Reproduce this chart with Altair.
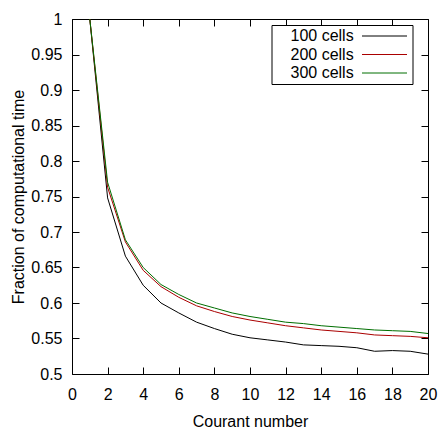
import altair as alt
import pandas as pd

courant = list(range(1, 21))
cells100 = [1.0, 0.748, 0.666, 0.625, 0.600, 0.586, 0.573, 0.564, 0.556, 0.551,
            0.548, 0.545, 0.541, 0.540, 0.539, 0.537, 0.532, 0.533, 0.532, 0.528]
cells200 = [1.0, 0.763, 0.686, 0.646, 0.623, 0.608, 0.596, 0.588, 0.581, 0.576,
            0.572, 0.568, 0.565, 0.562, 0.560, 0.558, 0.555, 0.554, 0.553, 0.551]
cells300 = [1.0, 0.770, 0.689, 0.650, 0.626, 0.612, 0.600, 0.593, 0.586, 0.581,
            0.577, 0.573, 0.571, 0.568, 0.566, 0.564, 0.562, 0.561, 0.560, 0.557]
series_names = ["100 cells", "200 cells", "300 cells"]
series_colors = ["#000000", "#aa0000", "#006e00"]
x_ticks = [0, 2, 4, 6, 8, 10, 12, 14, 16, 18, 20]
y_ticks = [0.5, 0.55, 0.6, 0.65, 0.7, 0.75, 0.8, 0.85, 0.9, 0.95, 1.0]

rows = []
for name, vals in zip(series_names, [cells100, cells200, cells300]):
    for c, v in zip(courant, vals):
        rows.append({"courant": c, "frac": v, "series": name})
df = pd.DataFrame(rows)

FONT = "Liberation Sans"
xscale = alt.Scale(domain=[0, 20], nice=False, zero=False)
yscale = alt.Scale(domain=[0.5, 1.0], nice=False, zero=False)

base = alt.Chart(df)

# legend sample line drawn to the right of the label (gnuplot style key)
KEY_PATH = "M15.9,0H24.9"

lines = base.mark_line(strokeWidth=1).encode(
    x=alt.X("courant:Q", scale=xscale, title="Courant number",
            axis=alt.Axis(values=x_ticks, format="d", ticks=False, domain=False,
                          labelPadding=12, titlePadding=11, labelFlush=False,
                          labelOverlap=False, orient="bottom")),
    y=alt.Y("frac:Q", scale=yscale, title="Fraction of computational time",
            axis=alt.Axis(values=y_ticks, format=".2~f", ticks=False, domain=False,
                          labelPadding=10, titlePadding=4, labelFlush=False,
                          labelOverlap=False, orient="left")),
    color=alt.Color("series:N", title=None,
                    scale=alt.Scale(domain=series_names, range=series_colors),
                    legend=alt.Legend(orient="none", legendX=199.5, legendY=6,
                                      symbolType=KEY_PATH, symbolSize=100,
                                      symbolStrokeWidth=1,
                                      labelOffset=0,
                                      labelFontSize=16, labelFont=FONT,
                                      labelColor="black",
                                      rowPadding=2.5, padding=3,
                                      strokeColor="black", fillColor="white")),
    detail="series:N",
)

def tick_layer(xorient, yorient):
    return base.mark_point(opacity=0).encode(
        x=alt.X("courant:Q", scale=xscale, title=None,
                axis=alt.Axis(values=x_ticks, labels=False, domain=False, ticks=True,
                              tickSize=7, offset=-7, orient=xorient,
                              tickColor="black")),
        y=alt.Y("frac:Q", scale=yscale, title=None,
                axis=alt.Axis(values=y_ticks, labels=False, domain=False, ticks=True,
                              tickSize=7, offset=-7, orient=yorient,
                              tickColor="black")),
    )

chart = alt.layer(
    tick_layer("bottom", "left"),
    tick_layer("top", "right"),
    lines,
).resolve_axis(x="independent", y="independent").properties(
    width=356, height=355,
    autosize=alt.AutoSizeParams(type="none"),
    padding={"left": 72, "top": 19, "right": 11, "bottom": 54},
    background="white",
).configure_view(stroke="black", strokeWidth=1).configure_axis(
    grid=False, labelFont=FONT, titleFont=FONT, labelFontSize=16,
    titleFontSize=16, titleFontWeight="normal", labelColor="black",
    titleColor="black",
)

chart.save("out.html", embed_options={"renderer": "svg", "actions": False})
